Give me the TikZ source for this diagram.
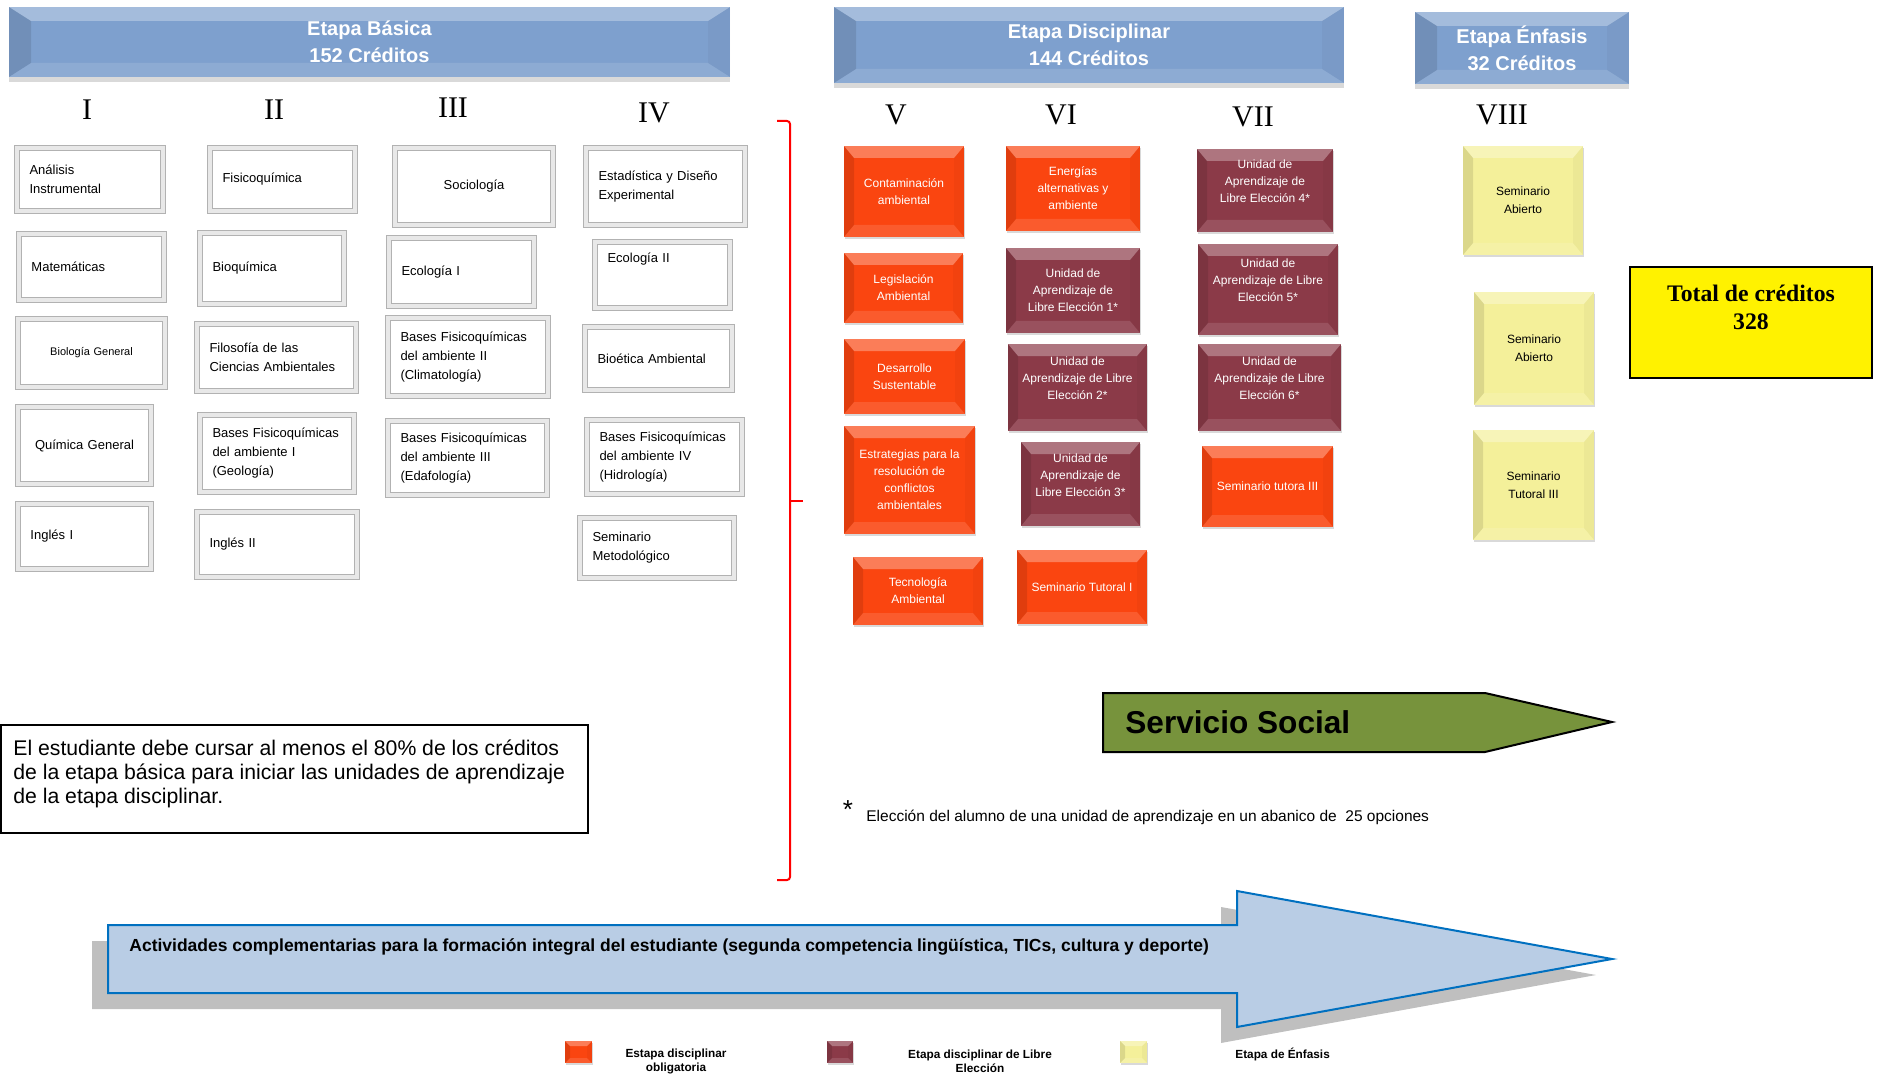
\documentclass[tikz,border=0pt]{standalone}
\usepackage{fontspec}
\setmainfont{Liberation Sans}
\newfontfamily\timesfont{Liberation Serif}
\usetikzlibrary{shadows}

\definecolor{bannerblue}{HTML}{7EA0CE}
\definecolor{stageorange}{HTML}{FA4510}
\definecolor{stagemaroon}{HTML}{8B3A48}
\definecolor{stageyellow}{HTML}{F4F09A}
\definecolor{servgreen}{HTML}{77933C}
\definecolor{arrowblue}{HTML}{B9CDE5}
\definecolor{arrowline}{HTML}{0070C0}
\definecolor{shadowgray}{HTML}{BFBFBF}

% bevelled faces of a box: #1 side width, #2 top/bottom width
\newcommand\bevelfaces[2]{%
  \path (path picture bounding box.north west) coordinate (bnw)
        (path picture bounding box.north east) coordinate (bne)
        (path picture bounding box.south west) coordinate (bsw)
        (path picture bounding box.south east) coordinate (bse)
        ([xshift=#1,yshift=-#2]bnw) coordinate (inw)
        ([xshift=-#1,yshift=-#2]bne) coordinate (ine)
        ([xshift=#1,yshift=#2]bsw) coordinate (isw)
        ([xshift=-#1,yshift=#2]bse) coordinate (ise);
  \fill[white,opacity=.3] (bnw) -- (bne) -- (ine) -- (inw) -- cycle;
  \fill[black,opacity=.1] (bnw) -- (inw) -- (isw) -- (bsw) -- cycle;
  \fill[white,opacity=.12] (bsw) -- (isw) -- (ise) -- (bse) -- cycle;
  \fill[black,opacity=.03] (bne) -- (ine) -- (ise) -- (bse) -- cycle;}

\tikzset{
  whitebox/.style={draw=gray!60, double=gray!18, double distance=2.2pt, line width=0.4pt,
    fill=white, inner xsep=6.25pt, align=left, font=\fontsize{6.5}{9.5}\selectfont},
  stagebase/.style={inner sep=1pt, align=center,
    drop shadow={shadow xshift=0.6pt, shadow yshift=-1.2pt, opacity=.3}},
  orangebox/.style={stagebase, fill=stageorange, text=white,
    font=\fontsize{6}{8.5}\selectfont, path picture={\bevelfaces{5pt}{6pt}}},
  maroonbox/.style={stagebase, fill=stagemaroon, text=white,
    font=\fontsize{6}{8.5}\selectfont, path picture={\bevelfaces{5pt}{6pt}}},
  yellowbox/.style={stagebase, fill=stageyellow,
    font=\fontsize{6}{9}\selectfont, path picture={\bevelfaces{5pt}{6pt}}},
  banner/.style={fill=bannerblue, text=white, align=center,
    font=\bfseries\fontsize{10}{13.5}\selectfont,
    drop shadow={shadow xshift=0pt, shadow yshift=-2.5pt, opacity=.3},
    path picture={\bevelfaces{11pt}{7pt}}},
  semester/.style={inner sep=0pt, font=\timesfont\fontsize{15}{15}\selectfont},
  legend/.style={inner sep=0pt, align=center, font=\bfseries\fontsize{5.9}{7}\selectfont},
}

\def\whitebox[#1](#2)(#3,#4)(#5,#6)#7{%
  \pgfmathsetmacro\boxw{(#5-#3-6)/2}%
  \pgfmathsetmacro\boxh{(#6-#4-6)/2}%
  \pgfmathsetmacro\boxt{(#5-#3-31)/2}%
  \node[whitebox, minimum width=\boxw pt, minimum height=\boxh pt, text width=\boxt pt, #1]
    (#2) at ({(#3+#5)/2},{(#4+#6)/2}) {#7}}
\def\stagebox[#1](#2)(#3,#4)(#5,#6)#7{%
  \pgfmathsetmacro\boxw{(#5-#3)/2}%
  \pgfmathsetmacro\boxh{(#6-#4)/2}%
  \node[#1, minimum width=\boxw pt, minimum height=\boxh pt]
    (#2) at ({(#3+#5)/2},{(#4+#6)/2}) {#7}}

\begin{document}
\begin{tikzpicture}[x=0.5pt, y=-0.5pt]
		%%%%% START %%%%%
		\useasboundingbox (0,0) rectangle (1885,1075);
		
		\stagebox[banner](basica)(9,7)(730,77){Etapa Básica\\152 Créditos};
		\stagebox[banner](disciplinar)(834,7)(1344,83){Etapa Disciplinar\\144 Créditos};
		\stagebox[banner](enfasis)(1415,12)(1629,84){Etapa Énfasis\\32 Créditos};
		
		\node[semester] (semI) at (87,110) {I};
		\node[semester] (semII) at (274,110) {II};
		\node[semester] (semIII) at (453,108) {III};
		\node[semester] (semIV) at (654,113) {IV};
		\node[semester] (semV) at (896,115) {V};
		\node[semester] (semVI) at (1061,115) {VI};
		\node[semester] (semVII) at (1253,117) {VII};
		\node[semester] (semVIII) at (1502,115) {VIII};
		
		% etapa basica
		\whitebox[](analisis)(14,145)(166,214){Análisis\\Instrumental};
		\whitebox[](matematicas)(16,231)(167,303){Matemáticas};
		\whitebox[align=center, font=\fontsize{5.5}{7}\selectfont](biologia)(15,316)(168,390){Biología General};
		\whitebox[align=center](quimica)(15,404)(154,487){Química General};
		\whitebox[](ingles1)(15,501)(154,572){Inglés I};
		
		\whitebox[](fisicoquimica)(207,145)(358,214){Fisicoquímica};
		\whitebox[](bioquimica)(197,230)(347,307){Bioquímica};
		\whitebox[](filosofia)(194,321)(359,394){Filosofía de las\\Ciencias Ambientales};
		\whitebox[](geologia)(197,412)(357,495){Bases Fisicoquímicas\\del ambiente I\\(Geología)};
		\whitebox[](ingles2)(194,509)(360,580){Inglés II};
		
		\whitebox[align=center](sociologia)(392,145)(556,228){Sociología};
		\whitebox[](ecologia1)(386,235)(537,309){Ecología I};
		\whitebox[](climatologia)(385,315)(551,399){Bases Fisicoquímicas\\del ambiente II\\(Climatología)};
		\whitebox[](edafologia)(385,418)(550,498){Bases Fisicoquímicas\\del ambiente III\\(Edafología)};
		
		\whitebox[](estadistica)(583,145)(748,228){Estadística y Diseño\\Experimental};
		\whitebox[text depth=17.5pt](ecologia2)(592,239)(733,311){Ecología II};
		\whitebox[](bioetica)(582,324)(735,393){Bioética Ambiental};
		\whitebox[](hidrologia)(584,417)(745,497){Bases Fisicoquímicas\\del ambiente IV\\(Hidrología)};
		\whitebox[](metodologico)(577,515)(737,581){Seminario\\Metodológico};
		
		% etapa disciplinar
		\stagebox[orangebox](contaminacion)(844,146)(964,237){Contaminación\\ambiental};
		\stagebox[orangebox](legislacion)(844,253)(963,323){Legislación\\Ambiental};
		\stagebox[orangebox](desarrollo)(844,339)(965,414){Desarrollo\\Sustentable};
		\stagebox[orangebox](estrategias)(844,426)(975,534){Estrategias para la\\resolución de\\conflictos\\ambientales};
		\stagebox[orangebox](tecnologia)(853,557)(983,625){Tecnología\\Ambiental};
		
		\stagebox[orangebox](energias)(1006,146)(1140,231){Energías\\alternativas y\\ambiente};
		\stagebox[maroonbox](libre1)(1006,248)(1140,333){Unidad de\\Aprendizaje de\\Libre Elección 1*};
		\stagebox[maroonbox, text depth=9pt](libre2)(1008,344)(1147,431){Unidad de\\Aprendizaje de Libre\\Elección 2*};
		\stagebox[maroonbox, text depth=9pt](libre3)(1021,442)(1140,526){Unidad de\\Aprendizaje de\\Libre Elección 3*};
		\stagebox[orangebox](tutoral1)(1017,550)(1147,624){Seminario Tutoral I};
		
		\stagebox[maroonbox, text depth=9pt](libre4)(1197,149)(1333,232){Unidad de\\Aprendizaje de\\Libre Elección 4*};
		\stagebox[maroonbox, text depth=9pt](libre5)(1198,244)(1338,335){Unidad de\\Aprendizaje de Libre\\Elección 5*};
		\stagebox[maroonbox, text depth=9pt](libre6)(1198,344)(1341,431){Unidad de\\Aprendizaje de Libre\\Elección 6*};
		\stagebox[orangebox](tutora3)(1202,446)(1333,527){Seminario tutora III};
		
		% etapa de enfasis
		\stagebox[yellowbox](abierto1)(1463,146)(1583,255){Seminario\\Abierto};
		\stagebox[yellowbox](abierto2)(1474,292)(1594,405){Seminario\\Abierto};
		\stagebox[yellowbox](tutoral3)(1473,430)(1594,540){Seminario\\Tutoral III};
		
		\draw[fill=yellow, line width=1pt] (1630,267) rectangle (1872,378);
		\node[inner sep=0pt, align=center, font=\timesfont\bfseries\fontsize{11.85}{14}\selectfont] (total) at (1751,307) {Total de créditos\\328};
		
		\draw[red, line width=1pt, rounded corners=1.5pt] (777,121) -- (790,121) -- (790,880) -- (777,880);
		\draw[red, line width=1pt] (790,501) -- (803,501);
		
		\draw[line width=1.2pt] (1,725) rectangle (588,833);
		\node[anchor=west, align=left, inner sep=0pt, font=\fontsize{10.6}{12}\selectfont] (nota) at (13,774) {El estudiante debe cursar al menos el 80\% de los créditos\\de la etapa básica para iniciar las unidades de aprendizaje\\de la etapa disciplinar.};
		
		\draw[fill=servgreen, line width=1pt] (1103,693) -- (1485,693) -- (1612,722) -- (1485,752) -- (1103,752) -- cycle;
		\node[anchor=west, inner sep=0pt, font=\bfseries\fontsize{15.8}{16}\selectfont] (servicio) at (1125,722) {Servicio Social};
		
		\node[inner sep=0pt, font=\fontsize{13}{13}\selectfont] (asterisco) at (848,810) {*};
		\node[anchor=west, inner sep=0pt, font=\fontsize{7.75}{9}\selectfont] (eleccion) at (866,817) {Elección del alumno de una unidad de aprendizaje en un abanico de~ 25 opciones};
		
		\fill[shadowgray, shift={(-16,16)}] (108,925) -- (1237,925) -- (1237,891) -- (1612,959) -- (1237,1027) -- (1237,993) -- (108,993) -- cycle;
		\draw[fill=arrowblue, draw=arrowline, line width=1pt] (108,925) -- (1237,925) -- (1237,891) -- (1612,959) -- (1237,1027) -- (1237,993) -- (108,993) -- cycle;
		\node[anchor=west, inner sep=0pt, font=\bfseries\fontsize{8.75}{10}\selectfont] (actividades) at (129,947) {Actividades complementarias para la formación integral del estudiante (segunda competencia lingüística, TICs, cultura y deporte)};
		
		% leyenda
		\stagebox[orangebox, path picture={\bevelfaces{2.5pt}{2.5pt}}](legnaranja)(565,1041)(592,1063){};
		\node[legend] (legobligatoria) at (676,1061) {Estapa disciplinar\\obligatoria};
		\stagebox[maroonbox, path picture={\bevelfaces{2.5pt}{2.5pt}}](leggranate)(827,1041)(853,1063){};
		\node[legend] (leglibre) at (980,1061) {Etapa disciplinar de Libre\\Elección};
		\stagebox[yellowbox, path picture={\bevelfaces{2.5pt}{2.5pt}}](legamarillo)(1120,1041)(1147,1063){};
		\node[legend, anchor=west] (legenfasis) at (1235,1054) {Etapa de Énfasis};
		
		%%%%% END %%%%%
	\end{tikzpicture}
\end{document}
